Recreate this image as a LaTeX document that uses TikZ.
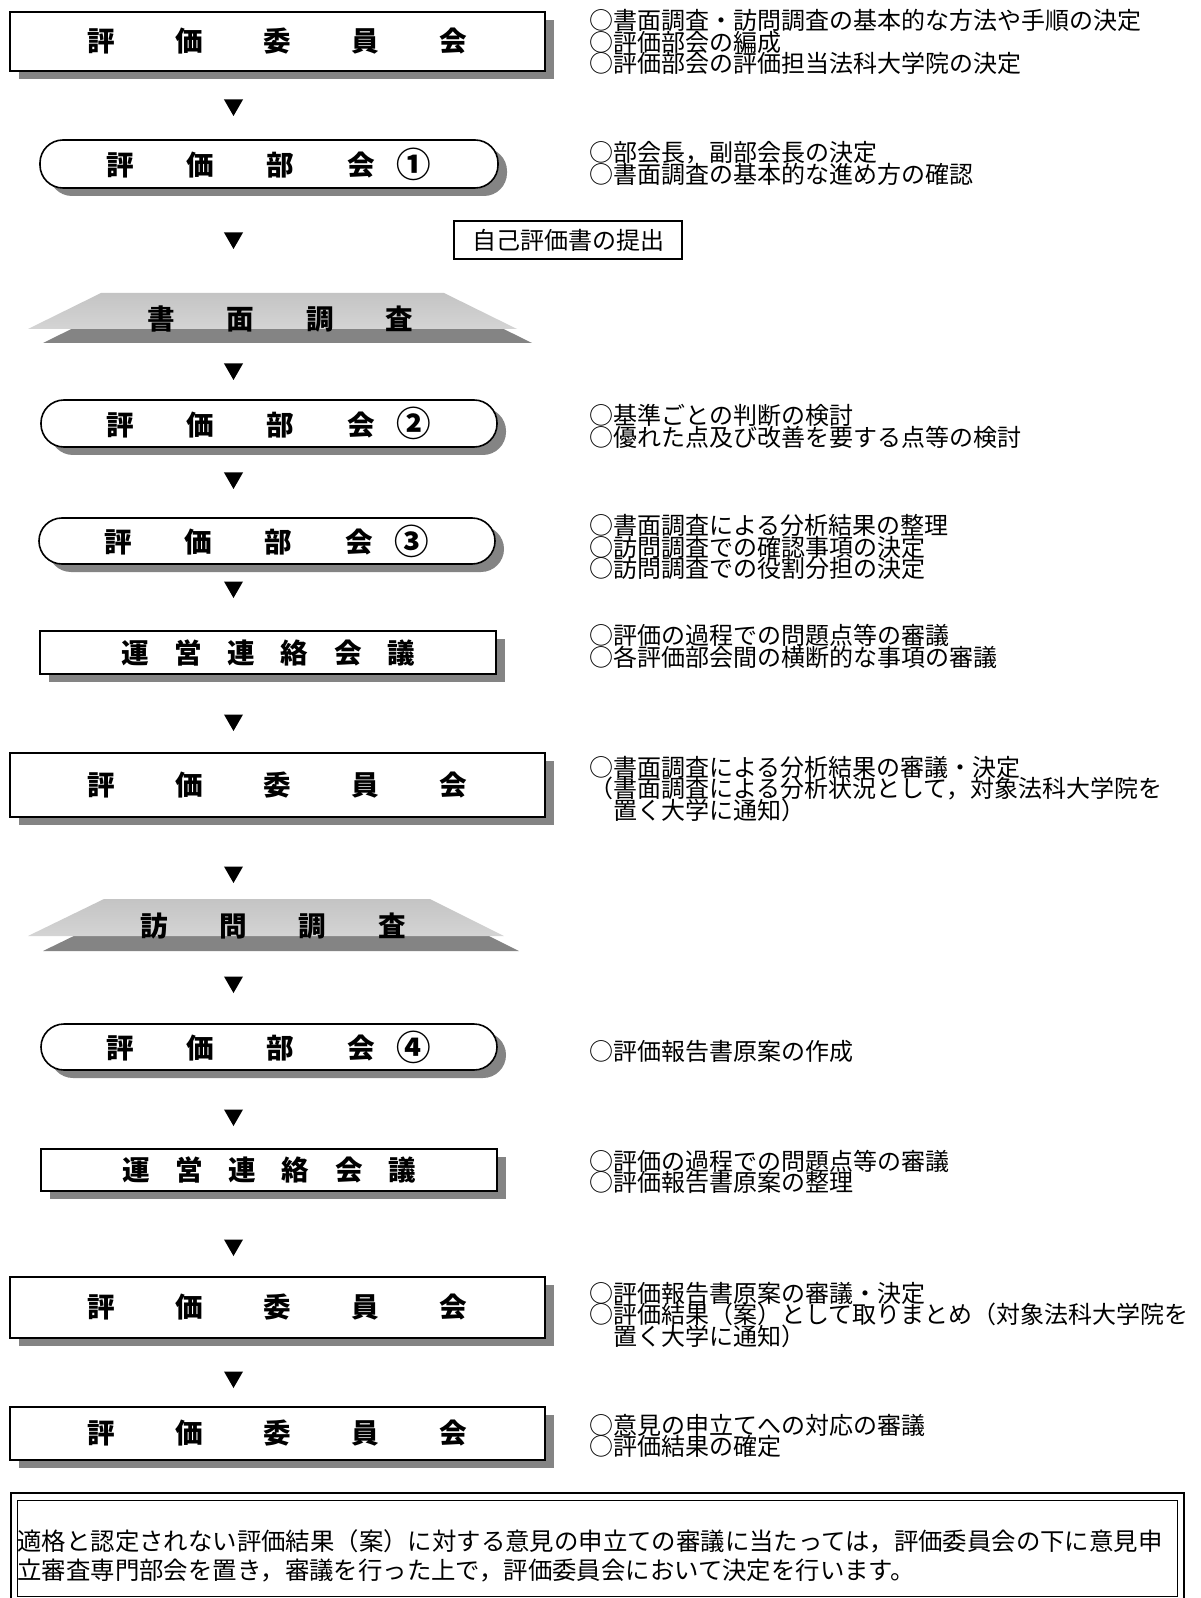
\documentclass[tikz,border=0pt]{standalone}
\usepackage{fontspec}
\newfontfamily\jp{Noto Sans CJK JP}
\usetikzlibrary{shapes.geometric,shadows}
\definecolor{shgray}{HTML}{848484}
\definecolor{plateA}{HTML}{C4C4C4}
\definecolor{plateB}{HTML}{ACACAC}
\definecolor{plateC}{HTML}{D4D4D4}
\newcommand\tightlines{\lineskiplimit=-20pt\relax\lineskip=0pt\relax}
\newcommand\cnum[1]{\raisebox{-0.1ex}{\scalebox{1.25}{#1}}}
\lineskiplimit=-20pt
\begin{document}
\begin{tikzpicture}[x=0.5pt,y=-0.5pt,
  lbl/.style={font=\jp\bfseries\fontsize{13.8pt}{15pt}\selectfont},
  sbox/.style={draw=black, line width=0.8pt, fill=white, inner sep=0pt,
    drop shadow={shadow xshift=4.5pt, shadow yshift=-4pt, fill=shgray, opacity=1}},
  rbox/.style={sbox, rounded corners=11.5pt},
  tri/.style={regular polygon, regular polygon sides=3, shape border rotate=180,
    fill=black, inner sep=0pt, minimum size=11pt},
  desc/.style={font=\jp\fontsize{12pt}{10.85pt}\selectfont\tightlines,
    align=left, anchor=west, inner sep=0pt},
  notetext/.style={font=\jp\fontsize{12.2pt}{14.5pt}\selectfont\tightlines,
    align=left, anchor=west, inner sep=0pt}
]
\useasboundingbox (0,0) rectangle (1200,1598);
\fill[white] (0,0) rectangle (1200,1598);

% ---------- main column ----------
\node[sbox, lbl, minimum width=267.5pt, minimum height=29.5pt] (b1) at (277.5,41.5)
  {\raisebox{-2.5pt}{\makebox[190pt][s]{評\hfil 価\hfil 委\hfil 員\hfil 会}}};
\node[tri] (t1) at (233.5,105) {};

\node[rbox, lbl, minimum width=229pt, minimum height=24pt] (r1) at (269,164)
  {\raisebox{-1pt}{\makebox[134pt][s]{評\hfil 価\hfil 部\hfil 会}\hspace{11pt}\cnum{①}}};
\node[tri] (t2) at (233.5,238) {};
\node[draw=black, line width=1.1pt, fill=white, inner sep=0pt, minimum width=114pt,
  minimum height=19pt, font=\jp\fontsize{12pt}{14pt}\selectfont] (sub) at (568,240) {自己評価書の提出};

% plate 1
\fill[shgray] (116,307) -- (459,307) -- (532,343) -- (43,343) -- cycle;
\shade[top color=plateA, middle color=plateB, bottom color=plateC]
  (101,293) -- (444,293) -- (517,329) -- (28,329) -- cycle;
\node[lbl, inner sep=0pt] (p1) at (280.5,319) {\makebox[133pt][s]{書\hfil 面\hfil 調\hfil 査}};

\node[tri] (t3) at (233.5,369) {};
\node[rbox, lbl, minimum width=228pt, minimum height=23.5pt] (r2) at (269,423.5)
  {\raisebox{-1pt}{\makebox[134pt][s]{評\hfil 価\hfil 部\hfil 会}\hspace{11pt}\cnum{②}}};
\node[tri] (t4) at (233.5,478) {};
\node[rbox, lbl, minimum width=228pt, minimum height=23pt] (r3) at (267,541)
  {\raisebox{-1pt}{\makebox[134pt][s]{評\hfil 価\hfil 部\hfil 会}\hspace{11pt}\cnum{③}}};
\node[tri] (t5) at (233.5,587) {};
\node[sbox, lbl, minimum width=228pt, minimum height=21.5pt] (u1) at (268,652.5)
  {\raisebox{-1pt}{\makebox[147pt][s]{運\hfil 営\hfil 連\hfil 絡\hfil 会\hfil 議}}};
\node[tri] (t6) at (233.5,720) {};
\node[sbox, lbl, minimum width=267.5pt, minimum height=32pt] (b2) at (277.5,785)
  {\raisebox{-1pt}{\makebox[190pt][s]{評\hfil 価\hfil 委\hfil 員\hfil 会}}};
\node[tri] (t7) at (233.5,872) {};

% plate 2
\fill[shgray] (119,914) -- (445,914) -- (519,951) -- (43,951) -- cycle;
\shade[top color=plateA, middle color=plateB, bottom color=plateC]
  (104,899) -- (430,899) -- (504,936) -- (28,936) -- cycle;
\node[lbl, inner sep=0pt] (p2) at (273,926) {\makebox[133pt][s]{訪\hfil 問\hfil 調\hfil 査}};

\node[tri] (t8) at (233.5,982) {};
\node[rbox, lbl, minimum width=228pt, minimum height=23pt] (r4) at (269,1047)
  {\raisebox{-1pt}{\makebox[134pt][s]{評\hfil 価\hfil 部\hfil 会}\hspace{11pt}\cnum{④}}};
\node[tri] (t9) at (233.5,1115) {};
\node[sbox, lbl, minimum width=228pt, minimum height=21pt] (u2) at (269,1170)
  {\raisebox{-1pt}{\makebox[147pt][s]{運\hfil 営\hfil 連\hfil 絡\hfil 会\hfil 議}}};
\node[tri] (t10) at (233.5,1245) {};
\node[sbox, lbl, minimum width=267.5pt, minimum height=30.5pt] (b3) at (277.5,1307.5)
  {\makebox[190pt][s]{評\hfil 価\hfil 委\hfil 員\hfil 会}};
\node[tri] (t11) at (233.5,1377) {};
\node[sbox, lbl, minimum width=267.5pt, minimum height=26.5pt] (b4) at (277.5,1433.5)
  {\makebox[190pt][s]{評\hfil 価\hfil 委\hfil 員\hfil 会}};

% ---------- descriptions ----------
\node[desc] (d1) at (589,42) {○書面調査・訪問調査の基本的な方法や手順の決定\\○評価部会の編成\\○評価部会の評価担当法科大学院の決定};
\node[desc] (d2) at (589,163.5) {○部会長，副部会長の決定\\○書面調査の基本的な進め方の確認};
\node[desc] (d3) at (589,426.5) {○基準ごとの判断の検討\\○優れた点及び改善を要する点等の検討};
\node[desc] (d4) at (589,547) {○書面調査による分析結果の整理\\○訪問調査での確認事項の決定\\○訪問調査での役割分担の決定};
\node[desc] (d5) at (589,646.5) {○評価の過程での問題点等の審議\\○各評価部会間の横断的な事項の審議};
\node[desc] (d6) at (589,789) {○書面調査による分析結果の審議・決定\\（書面調査による分析状況として，対象法科大学院を\\　置く大学に通知）};
\node[desc] (d7) at (589,1051) {○評価報告書原案の作成};
\node[desc] (d8) at (589,1172) {○評価の過程での問題点等の審議\\○評価報告書原案の整理};
\node[desc] (d9) at (589,1315) {○評価報告書原案の審議・決定\\○評価結果（案）として取りまとめ（対象法科大学院を\\　置く大学に通知）};
\node[desc] (d10) at (589,1436) {○意見の申立てへの対応の審議\\○評価結果の確定};

% ---------- note ----------
\draw[line width=1pt] (11,1493) rectangle (1184,1606);
\draw[line width=0.5pt] (17,1500) rectangle (1177,1596);
\node[notetext] (note) at (17,1555.5) {適格と認定されない評価結果（案）に対する意見の申立ての審議に当たっては，評価委員会の下に意見申\\立審査専門部会を置き，審議を行った上で，評価委員会において決定を行います。};
\end{tikzpicture}
\end{document}
